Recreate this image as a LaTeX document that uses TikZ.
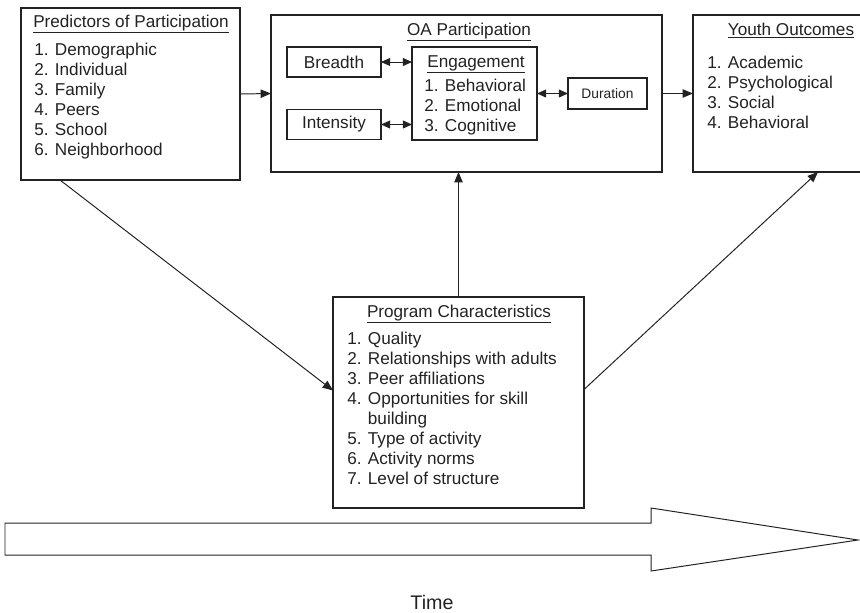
\documentclass[tikz,border=0pt]{standalone}
\usepackage{fontspec}
\setmainfont{Liberation Sans}
\usetikzlibrary{arrows.meta,fit,calc}

\definecolor{ink}{HTML}{222222}
\tikzset{
  box/.style={draw=ink, line width=0.9pt, inner sep=0pt, outer sep=0pt},
  txt/.style={inner sep=0pt, text=ink, font=\fontsize{12.2}{14.2}\selectfont},
  list/.style={txt, align=left, anchor=base west},
  ttl/.style={txt, anchor=base},
  small/.style={box, txt, minimum width=2.35cm, minimum height=0.75cm},
  link/.style={draw=ink, line width=0.7pt, -{Triangle[length=2.6mm,width=2.1mm]}},
  both/.style={draw=ink, line width=0.7pt, {Triangle[length=2.3mm,width=2mm]}-{Triangle[length=2.3mm,width=2mm]}},
}

\begin{document}
\begin{tikzpicture}[x=0.025cm, y=-0.025cm]
  \useasboundingbox (0,0) rectangle (860,612);
  \clip (0,0) rectangle (860,612);

  % Predictors
  \node[box, fit={(21,8) (240,180)}] (pred) {};
  \node[ttl] (predT) at (131,27) {\underline{Predictors of Participation}};
  \node[list] (predL) at (34,155) {1. Demographic\\2. Individual\\3. Family\\4. Peers\\5. School\\6. Neighborhood};

  % OA participation
  \node[box, fit={(271,15) (662,172)}] (oa) {};
  \node[ttl] (oaT) at (469,35) {\underline{OA Participation}};
  \node[small] (breadth) at (334,62) {Breadth};
  \node[small] (intens) at (334,124.5) {Intensity};
  \node[box, fit={(412,47) (537,140)}] (eng) {};
  \node[ttl] (engT) at (476,67) {\underline{Engagement}};
  \node[list] (engL) at (424,131.5) {1. Behavioral\\2. Emotional\\3. Cognitive};
  \node[small, font=\fontsize{9.8}{12}\selectfont, minimum width=1.975cm, minimum height=0.775cm] (dur) at (607.5,93.5) {Duration};

  % Youth outcomes
  \node[box, fit={(693,15) (880,172)}] (youth) {};
  \node[ttl] (youthT) at (791,35) {\underline{Youth Outcomes}};
  \node[list] (youthL) at (707,128) {1. Academic\\2. Psychological\\3. Social\\4. Behavioral};

  % Program characteristics
  \node[box, fit={(333,297) (584,508)}] (prog) {};
  \node[ttl] (progT) at (459,317) {\underline{Program Characteristics}};
  \node[list] (progL) at (347,484) {1. Quality\\2. Relationships with adults\\3. Peer affiliations\\4. Opportunities for skill\\\hphantom{4. }building\\5. Type of activity\\6. Activity norms\\7. Level of structure};

  % Liens
  \draw[link] (pred.east) -- (oa.west);
  \draw[link] (oa.east) -- (youth.west);
  \draw[both] (breadth.east) -- (breadth.east -| eng.west);
  \draw[both] (intens.east) -- (intens.east -| eng.west);
  \draw[both] (eng.east) -- (dur.west);
  \draw[link] (prog.north) -- (prog.north |- oa.south);
  \draw[link] ($(pred.south west)+(39,0)$) -- ($(prog.west)+(0,-12)$);
  \draw[link] ($(prog.east)+(0,-13)$) -- ($(youth.south west)+(125,0)$);

  % Time
  \draw[draw=ink, line width=0.7pt] (5,523) -- (651,523) -- (651,508) -- (858,540)
    -- (651,571) -- (651,555) -- (5,555) -- cycle;
  \node[txt, font=\fontsize{14}{16}\selectfont, anchor=base] (time) at (432,609) {Time};
\end{tikzpicture}
\end{document}
